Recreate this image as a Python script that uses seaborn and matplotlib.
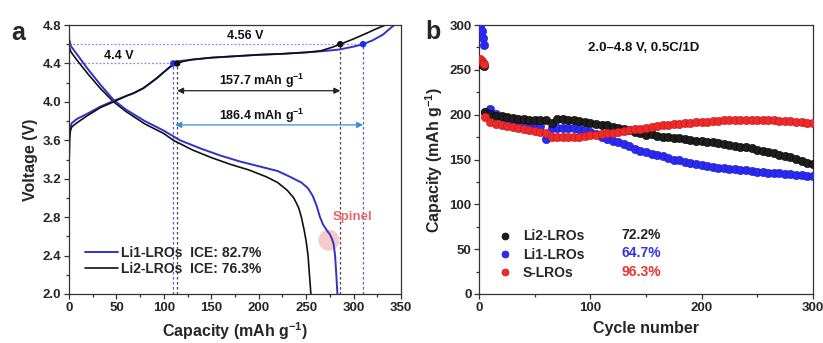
import matplotlib
matplotlib.use("Agg")
import matplotlib.pyplot as plt
from matplotlib.lines import Line2D
import seaborn as sns
import pandas as pd

# ---------------- Panel a data (first charge/discharge) ----------------
li1_chg_cap = [0, 0.5, 1.5, 3, 8, 20, 33, 47, 60, 68, 78, 85, 93, 100, 106, 110, 117, 130, 150, 175,
               200, 225, 250, 270, 285, 300, 310, 320, 331, 338, 343]
li1_chg_v = [3.35, 3.65, 3.74, 3.78, 3.82, 3.88, 3.95, 4.01, 4.06, 4.09, 4.14, 4.19, 4.25, 4.31, 4.36, 4.40,
             4.425, 4.44, 4.46, 4.475, 4.49, 4.50, 4.515, 4.53, 4.545, 4.575, 4.60, 4.64, 4.70, 4.76, 4.80]
li2_chg_cap = [0, 0.5, 1.5, 3, 8, 20, 33, 47, 60, 68, 78, 85, 93, 100, 106, 114, 120, 130, 150, 175,
               200, 225, 250, 265, 278, 286, 300, 315, 325, 334]
li2_chg_v = [3.30, 3.60, 3.70, 3.74, 3.78, 3.86, 3.94, 4.00, 4.06, 4.09, 4.14, 4.19, 4.25, 4.31, 4.36, 4.40,
             4.42, 4.44, 4.46, 4.475, 4.49, 4.50, 4.515, 4.53, 4.57, 4.60, 4.655, 4.72, 4.765, 4.80]
li1_dis_cap = [0, 2, 8, 20, 33, 47, 60, 80, 100, 117, 140, 160, 180, 200, 220, 233, 245, 252, 257, 261,
               264.6, 268, 272, 275, 277, 279, 280.5, 281.5, 283]
li1_dis_v = [4.66, 4.58, 4.50, 4.34, 4.18, 4.02, 3.92, 3.80, 3.70, 3.60, 3.51, 3.44, 3.38, 3.33, 3.28, 3.22,
             3.16, 3.10, 3.02, 2.92, 2.80, 2.72, 2.66, 2.62, 2.58, 2.52, 2.40, 2.25, 2.00]
li2_dis_cap = [0, 2, 8, 20, 33, 47, 60, 80, 100, 110, 130, 150, 170, 190, 208, 220, 230, 237, 242, 245,
               248, 250, 252, 253.5, 255]
li2_dis_v = [4.58, 4.52, 4.44, 4.29, 4.14, 4.00, 3.90, 3.77, 3.67, 3.60, 3.50, 3.42, 3.35, 3.29, 3.22, 3.16,
             3.08, 3.00, 2.90, 2.80, 2.66, 2.55, 2.40, 2.20, 2.00]
li1_pts_cap = [110, 310]
li1_pts_v = [4.40, 4.60]
li2_pts_cap = [114, 286]
li2_pts_v = [4.40, 4.60]
cap_li2_arrow = 157.7
cap_li1_arrow = 186.4
ice_labels = ["Li1-LROs  ICE: 82.7%", "Li2-LROs  ICE: 76.3%"]

# ---------------- Panel b data (cycling) ----------------
form_cycles = [1, 2, 3, 4]
li1_form = [299, 293, 286, 278]
li2_form = [257, 256, 255, 254]
s_form = [262, 260, 258, 256]
cycles = list(range(5, 301, 5))
li1_cap = [203, 206, 201, 197, 193, 191, 190, 189, 188, 187, 187, 173, 185, 185, 185, 185, 185, 184, 183, 181,
           178, 175, 173, 171, 169, 167, 165, 162, 160, 158, 156, 155, 154, 152, 150, 149, 147.5, 146.5, 145.5, 144,
           143, 142, 141, 140, 139.5, 139, 138.5, 138, 137, 136.5, 136, 135.5, 135, 134.5, 134, 133.5, 133, 132.5, 132, 131.5]
li2_cap = [203, 201, 199, 198, 197, 196, 195.5, 195, 194.5, 194, 194, 194, 191, 195, 195, 194.5, 194, 193, 192, 191,
           190, 189, 188, 186.5, 185, 184, 182.5, 181, 179.5, 177, 178, 176.5, 175.5, 175, 174, 173.5, 173, 172, 171, 170.5,
           170, 169, 168, 167, 166, 165, 164, 163.5, 162.5, 161, 160, 158.5, 157, 155.5, 154, 152.5, 151, 148.5, 146.5, 145.5]
s_cap = [197, 192, 190, 188.5, 187.5, 186.5, 185, 183.5, 182.5, 181.5, 180.5, 179.5, 175, 175, 175, 175, 175, 175.5, 176, 177,
         177.5, 178, 179, 179.5, 180.5, 181.5, 182.5, 183.5, 184.5, 185.5, 186.5, 187, 188, 189, 189.5, 190, 190.5, 191, 191.5, 192,
         192, 192.5, 193, 193.5, 194, 194, 194, 194, 193.5, 193.5, 193.5, 193.5, 193.5, 193, 193, 192.5, 192, 191.5, 191, 190.5]
series_names = ["Li2-LROs", "Li1-LROs", "S-LROs"]
retention = ["72.2%", "64.7%", "96.3%"]
condition = "2.0\u20134.8 V, 0.5C/1D"

# ---------------- Style ----------------
sns.set_theme(style="ticks")
plt.rcParams["font.family"] = ["Liberation Sans", "DejaVu Sans"]
plt.rcParams["font.weight"] = "bold"
plt.rcParams["axes.labelweight"] = "bold"
plt.rcParams["mathtext.fontset"] = "custom"
plt.rcParams["mathtext.rm"] = "Liberation Sans:bold"
plt.rcParams["mathtext.bf"] = "Liberation Sans:bold"
plt.rcParams["mathtext.default"] = "bf"

BLUE = "#3232c8"
BLACK = "#111111"
ARROW_BLUE = "#3d8ed6"
SPINE = "#333333"

fig = plt.figure(figsize=(8.23, 3.43), dpi=100)
axa = fig.add_axes([69 / 823, 49 / 343, 332 / 823, 269 / 343])
axb = fig.add_axes([479.3 / 823, 49 / 343, 333.4 / 823, 269 / 343])

def style_axis(ax):
    for sp in ax.spines.values():
        sp.set_color(SPINE)
        sp.set_linewidth(0.9)
    ax.tick_params(which="both", direction="out", top=False, right=False, color=SPINE, width=0.9)
    ax.tick_params(which="major", length=3.5, labelsize=9.5, pad=2)
    ax.tick_params(which="minor", length=2)
    for lab in ax.get_xticklabels() + ax.get_yticklabels():
        lab.set_fontweight("bold")

# ---------------- Panel a ----------------
ax = axa
ax.hlines(li1_pts_v[1], 0, li1_pts_cap[1], colors="#8c8ce6", linestyles=(0, (1.5, 1.5)), lw=0.9, zorder=1)
ax.hlines(li1_pts_v[0], 0, li2_pts_cap[0] - 2, colors="#8c8ce6", linestyles=(0, (1.5, 1.5)), lw=0.9, zorder=1)
for c, v in zip(li1_pts_cap, li1_pts_v):
    ax.vlines(c, 2.0, v, colors="#5a5ae0", linestyles=(0, (2, 2)), lw=0.9, zorder=1)
for c, v in zip(li2_pts_cap, li2_pts_v):
    ax.vlines(c, 2.0, v, colors="#444444", linestyles=(0, (2, 2)), lw=0.9, zorder=1)

sns.lineplot(x=li2_dis_cap, y=li2_dis_v, sort=False, estimator=None, color=BLACK, lw=1.2, ax=ax)
sns.lineplot(x=li1_dis_cap, y=li1_dis_v, sort=False, estimator=None, color=BLUE, lw=1.4, ax=ax)
sns.lineplot(x=li1_chg_cap, y=li1_chg_v, sort=False, estimator=None, color=BLUE, lw=1.4, ax=ax)
sns.lineplot(x=li2_chg_cap, y=li2_chg_v, sort=False, estimator=None, color=BLACK, lw=1.2, ax=ax)
sns.scatterplot(x=li1_pts_cap, y=li1_pts_v, color="#1f2bff", s=22, edgecolor="none", ax=ax, zorder=5)
sns.scatterplot(x=li2_pts_cap, y=li2_pts_v, color=BLACK, s=22, edgecolor="none", ax=ax, zorder=5)

ax.scatter([274], [2.56], s=230, color="#f2a0a0", alpha=0.55, edgecolor="none", zorder=0)
ax.text(299, 2.80, "Spinel", color="#e46a6a", fontsize=9.5, fontweight="bold", ha="center", va="center")

ax.annotate("", xy=(li2_pts_cap[0], 4.116), xytext=(li2_pts_cap[1], 4.116),
            arrowprops=dict(arrowstyle="<|-|>", color="#222222", lw=0.9, mutation_scale=9, shrinkA=0, shrinkB=0))
ax.annotate("", xy=(li1_pts_cap[0] + 2, 3.76), xytext=(li1_pts_cap[1], 3.76),
            arrowprops=dict(arrowstyle="<|-|>", color=ARROW_BLUE, lw=0.9, mutation_scale=9, shrinkA=0, shrinkB=0))
ax.text(203, 4.215, f"{cap_li2_arrow} mAh g$^{{-1}}$", fontsize=9, fontweight="bold", ha="center", va="center", color="#111111")
ax.text(203, 3.855, f"{cap_li1_arrow} mAh g$^{{-1}}$", fontsize=9, fontweight="bold", ha="center", va="center", color="#111111")
ax.text(53, 4.475, "4.4 V", fontsize=9, fontweight="bold", ha="center", va="center", color="#111111")
ax.text(186, 4.685, "4.56 V", fontsize=9, fontweight="bold", ha="center", va="center", color="#111111")

handles = [Line2D([], [], color=BLUE, lw=1.4), Line2D([], [], color=BLACK, lw=1.2)]
ax.legend(handles, ice_labels, loc="upper left", bbox_to_anchor=(0.048, 0.178), frameon=False,
          borderpad=0, borderaxespad=0, handlelength=2.4, handletextpad=0.2, labelspacing=0.15,
          prop={"weight": "bold", "size": 10})

ax.set_xlim(0, 350)
ax.set_ylim(2.0, 4.8)
ax.set_xticks([0, 50, 100, 150, 200, 250, 300, 350])
ax.set_yticks([2.0, 2.4, 2.8, 3.2, 3.6, 4.0, 4.4, 4.8])
ax.set_xticks(range(25, 350, 50), minor=True)
ax.set_yticks([2.2, 2.6, 3.0, 3.4, 3.8, 4.2, 4.6], minor=True)
ax.set_yticklabels([f"{v:.1f}" for v in [2.0, 2.4, 2.8, 3.2, 3.6, 4.0, 4.4, 4.8]])
ax.set_xlabel("Capacity (mAh g$^{-1}$)", fontsize=11.5, fontweight="bold", labelpad=5)
ax.set_ylabel("Voltage (V)", fontsize=11.5, fontweight="bold", labelpad=3)
style_axis(ax)
fig.text(18 / 823, 1 - 33 / 343, "a", fontsize=18, fontweight="bold", ha="center", va="center")

# ---------------- Panel b ----------------
ax = axb
rows = []
for name, form, vals in [("Li1-LROs", li1_form, li1_cap), ("Li2-LROs", li2_form, li2_cap), ("S-LROs", s_form, s_cap)]:
    for c, v in zip(form_cycles + cycles, form + vals):
        rows.append({"cycle": c, "capacity": v, "sample": name})
df = pd.DataFrame(rows)
face = {"Li2-LROs": "#1e1e1e", "Li1-LROs": "#2a2af2", "S-LROs": "#f02a2a"}
edge = {"Li2-LROs": "#000000", "Li1-LROs": "#1a1ab8", "S-LROs": "#b81818"}
for name in ["Li1-LROs", "Li2-LROs", "S-LROs"]:
    sub = df[df["sample"] == name]
    sns.scatterplot(data=sub, x="cycle", y="capacity", color=face[name], edgecolor=edge[name],
                    linewidth=0.4, s=36, ax=ax, zorder=3)

leg_handles = [Line2D([], [], marker="o", ls="", markersize=5, markerfacecolor=face[n],
                      markeredgecolor=edge[n], markeredgewidth=0.5) for n in series_names]
ax.legend(leg_handles, series_names, loc="upper left", bbox_to_anchor=(0.056, 0.24), frameon=False,
          borderpad=0, borderaxespad=0, handlelength=1.0, handletextpad=0.8, labelspacing=0.32,
          prop={"weight": "bold", "size": 10})
ret_colors = ["#222222", "#3333e6", "#e63333"]
for txt, col, y in zip(retention, ret_colors, [65.8, 45.4, 25.0]):
    ax.text(128, y, txt, color=col, fontsize=10, fontweight="bold", ha="left", va="center")
ax.text(148, 274, condition, fontsize=9.5, fontweight="bold", ha="center", va="center", color="#111111")

ax.set_xlim(0, 300)
ax.set_ylim(0, 300)
ax.set_xticks([0, 100, 200, 300])
ax.set_xticks([50, 150, 250], minor=True)
ax.set_yticks(range(0, 301, 50))
ax.set_yticks(range(25, 300, 50), minor=True)
ax.set_xlabel("Cycle number", fontsize=11.5, fontweight="bold", labelpad=5)
ax.set_ylabel("Capacity (mAh g$^{-1}$)", fontsize=11.5, fontweight="bold", labelpad=3)
style_axis(ax)
fig.text(433 / 823, 1 - 32 / 343, "b", fontsize=18, fontweight="bold", ha="center", va="center")

fig.savefig("out.png", dpi=100, facecolor="white")
